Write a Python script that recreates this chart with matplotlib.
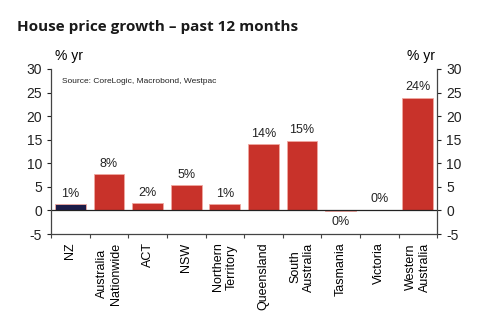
import matplotlib.pyplot as plt
import numpy as np

regions = ["NZ", "Australia\nNationwide", "ACT", "NSW", "Northern\nTerritory",
           "Queensland", "South\nAustralia", "Tasmania", "Victoria",
           "Western\nAustralia"]
growth = [1.3, 7.7, 1.6, 5.3, 1.4, 14.1, 14.8, -0.2, 0.2, 23.9]
labels = ["1%", "8%", "2%", "5%", "1%", "14%", "15%", "0%", "0%", "24%"]

red = "#C8322A"
navy = "#1C1C48"
colors = [navy] + [red] * 9

plt.rcParams['font.family'] = ['Liberation Sans', 'DejaVu Sans']
plt.rcParams['axes.unicode_minus'] = False

fig = plt.figure(figsize=(4.82, 3.22), dpi=100)
ax = fig.add_axes([0.106, 0.273, 0.801, 0.513])

x = np.arange(len(regions))
ax.bar(x, growth, width=0.8, color=colors, edgecolor="#F0A8A0", linewidth=0.6)
ax.axhline(0, color="#222222", linewidth=0.9)

for xi, v, lab in zip(x, growth, labels):
    if v >= 0:
        ax.text(xi, v + 0.9, lab, ha="center", va="bottom", fontsize=9, color="#222222")
    else:
        ax.text(xi, v - 1.0, lab, ha="center", va="top", fontsize=9, color="#222222")

ax.set_xlim(-0.5, len(regions) - 0.5)
ax.set_ylim(-5, 30)
ax.set_yticks(range(-5, 31, 5))
ax.tick_params(axis="y", labelsize=10, direction="out", length=3, colors="#222222",
               right=True, labelright=True)

# category boundaries get the tick marks, names sit in between
ax.set_xticks(np.arange(-0.5, len(regions), 1))
ax.set_xticklabels([])
ax.set_xticks(x, minor=True)
ax.set_xticklabels(regions, minor=True, rotation=90, fontsize=9, va="top",
                   linespacing=1.15)
ax.tick_params(axis="x", which="major", length=3, direction="out", color="#444444")
ax.tick_params(axis="x", which="minor", length=0, pad=6)

ax.spines["top"].set_visible(False)
for s in ["left", "right", "bottom"]:
    ax.spines[s].set_color("#444444")
    ax.spines[s].set_linewidth(0.9)

ax.text(0.01, 1.035, "% yr", transform=ax.transAxes, fontsize=10, ha="left", va="bottom")
ax.text(0.995, 1.035, "% yr", transform=ax.transAxes, fontsize=10, ha="right", va="bottom")
ax.text(0.027, 0.925, "Source: CoreLogic, Macrobond, Westpac", transform=ax.transAxes,
        fontsize=6, ha="left", va="center", color="#222222")

fig.text(0.035, 0.915, "House price growth \u2013 past 12 months", fontsize=11,
         fontweight="bold", family=["Open Sans", "DejaVu Sans"], color="#1A1A1A",
         ha="left", va="center")

fig.savefig("out.png", dpi=100, facecolor="white")
